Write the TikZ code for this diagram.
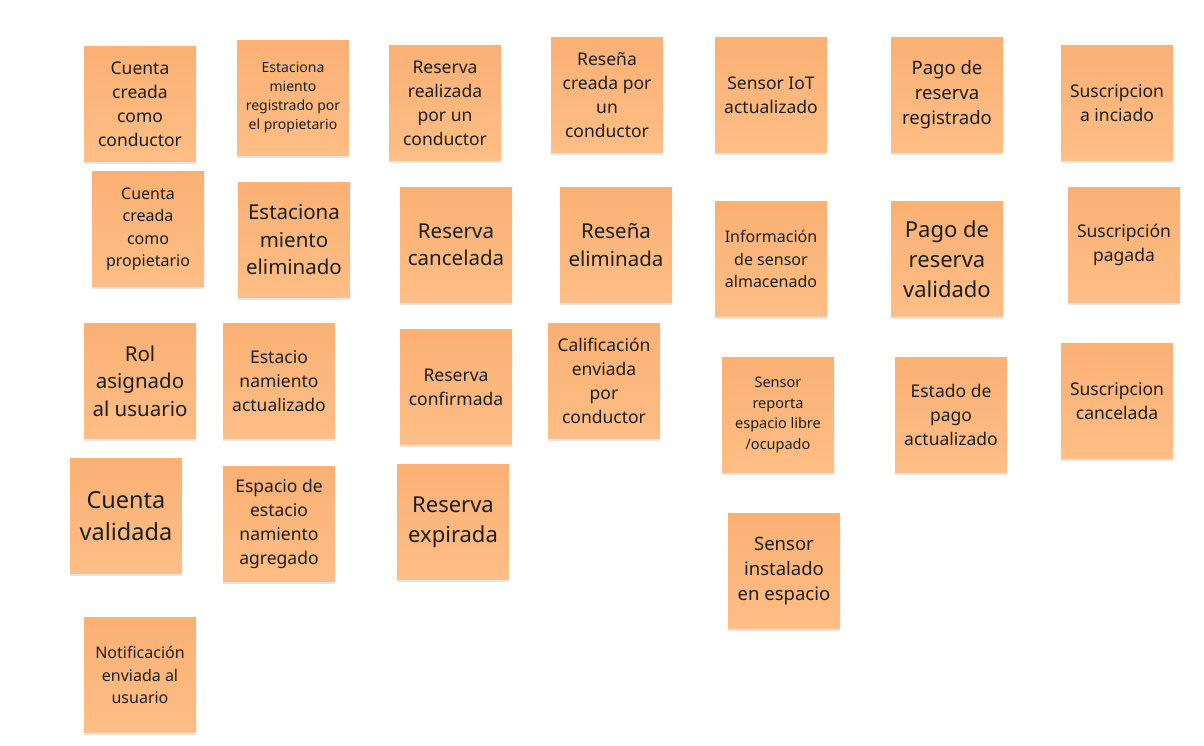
\documentclass[tikz,border=0pt]{standalone}
\usepackage{fontspec}
\setmainfont{Noto Sans}
\usepackage{xcolor}
\usetikzlibrary{shadows}

\definecolor{notetop}{RGB}{251,176,116}
\definecolor{notebot}{RGB}{254,190,133}
\definecolor{notetext}{RGB}{30,30,30}

\tikzset{
  note/.style={rectangle, minimum width=112pt, minimum height=115pt, inner sep=1pt,
    align=center, text=notetext, top color=notetop, bottom color=notebot,
    drop shadow={shadow xshift=0pt, shadow yshift=-2.5pt, opacity=0.1, fill=black}},
  tA/.style={font=\fontsize{14}{19}\selectfont},
  tB/.style={font=\fontsize{14.5}{20.5}\selectfont},
  tC/.style={font=\fontsize{16}{22.5}\selectfont},
  tD/.style={font=\fontsize{17.5}{24}\selectfont},
  tE/.style={font=\fontsize{18.5}{25}\selectfont},
  tF/.style={font=\fontsize{20.5}{27.5}\selectfont},
  tG/.style={font=\fontsize{22}{30}\selectfont},
  tH/.style={font=\fontsize{23.5}{32}\selectfont}
}

\begin{document}
\begin{tikzpicture}[x=1pt,y=-1pt]
    \useasboundingbox (0,0) rectangle (1204,746);
    % fila 1
    \node[note,tD] (e_1) at (140,104) {Cuenta\\creada\\como\\conductor};
    \node[note,tA] (e_2) at (293,98) {Estaciona\\miento\\registrado por\\el propietario};
    \node[note,tD] (e_3) at (445,103) {Reserva\\realizada\\por un\\conductor};
    \node[note,tD] (e_4) at (607,95) {Reseña\\creada por\\un\\conductor};
    \node[note,tD] (e_5) at (771,95) {Sensor IoT\\actualizado};
    \node[note,tE] (e_6) at (947,95) {Pago de\\reserva\\registrado};
    \node[note,tD] (e_7) at (1117,103) {Suscripcion\\a inciado};
    % fila 2
    \node[note,tC] (e_8) at (148,229) {Cuenta\\creada\\como\\propietario};
    \node[note,tF] (e_9) at (294,240) {Estaciona\\miento\\eliminado};
    \node[note,tF] (e_10) at (456,245) {Reserva\\cancelada};
    \node[note,tF] (e_11) at (616,245) {Reseña\\eliminada};
    \node[note,tC] (e_12) at (771,259) {Información\\de sensor\\almacenado};
    \node[note,tG] (e_13) at (947,259) {Pago de\\reserva\\validado};
    \node[note,tD] (e_14) at (1124,245) {Suscripción\\pagada};
    % fila 3
    \node[note,tF] (e_15) at (140,381) {Rol\\asignado\\al usuario};
    \node[note,tD] (e_16) at (279,381) {Estacio\\namiento\\actualizado};
    \node[note,tD] (e_17) at (456,387) {Reserva\\confirmada};
    \node[note,tD] (e_18) at (604,381) {Calificación\\enviada\\por\\conductor};
    \node[note,tB] (e_19) at (778,415) {Sensor\\reporta\\espacio libre\\/ocupado};
    \node[note,tD] (e_20) at (951,415) {Estado de\\pago\\actualizado};
    \node[note,tD] (e_21) at (1117,401) {Suscripcion\\cancelada};
    % fila 4
    \node[note,tH] (e_22) at (126,516) {Cuenta\\validada};
    \node[note,tD] (e_23) at (279,524) {Espacio de\\estacio\\namiento\\agregado};
    \node[note,tG] (e_24) at (453,522) {Reserva\\expirada};
    \node[note,tE] (e_25) at (784,571) {Sensor\\instalado\\en espacio};
    % fila 5
    \node[note,tC] (e_26) at (140,675) {Notificación\\enviada al\\usuario};
\end{tikzpicture}
\end{document}
